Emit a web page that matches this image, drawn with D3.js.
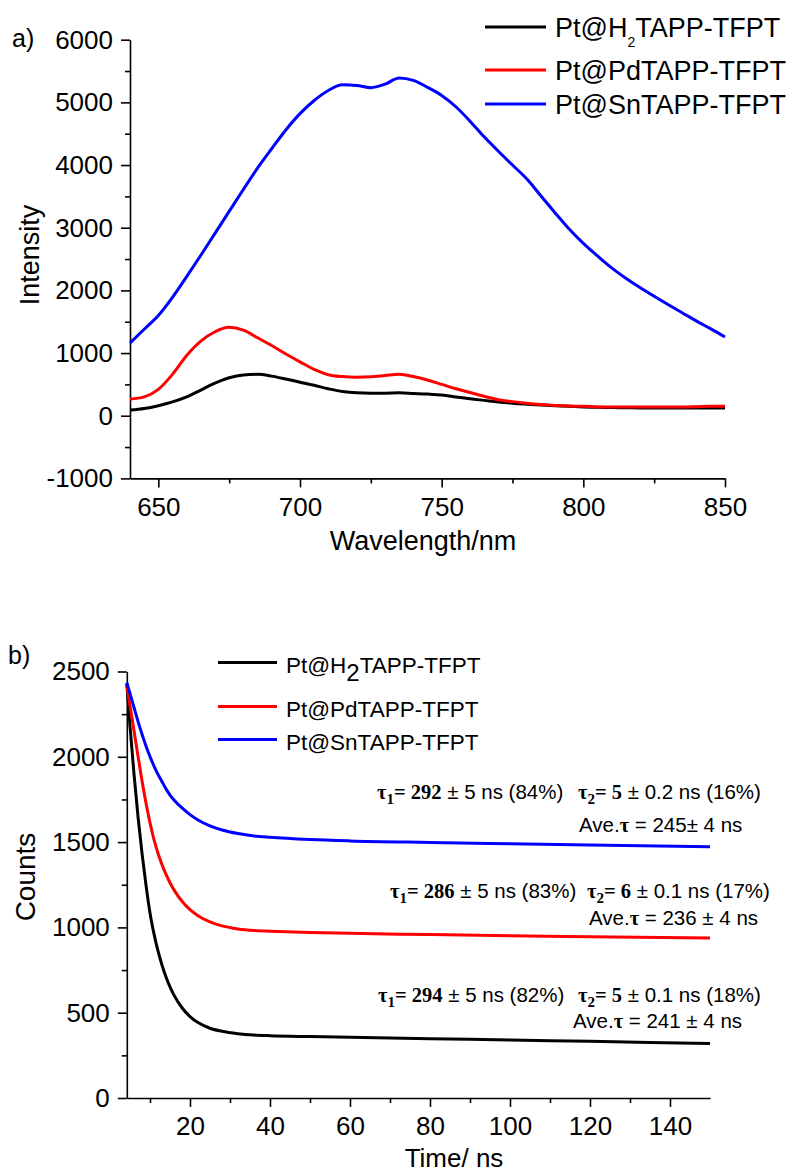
<!DOCTYPE html>
<html>
<head>
<meta charset="utf-8">
<script src="https://d3js.org/d3.v7.min.js"></script>
<style>
  body { margin: 0; background: #fff; }
  text { font-family: "Liberation Sans", Arial, sans-serif; fill: #000; }
  .ser { font-family: "Liberation Serif", "Times New Roman", serif; font-weight: bold; }
</style>
</head>
<body>
<div id="chart"></div>
<script>
// ---- data ----
var seriesNames = ["Pt@H2TAPP-TFPT", "Pt@PdTAPP-TFPT", "Pt@SnTAPP-TFPT"];
var seriesColors = ["#000000", "#ff0000", "#0000ff"];

// panel a: emission spectra
var wavelength = [640,645,650,655,660,665,670,675,680,685,690,695,700,705,710,715,720,725,730,735,
                  740,745,750,755,760,765,770,775,780,785,790,795,800,805,810,815,820,825,830,835,840,845,850];
var intH2 = [90,115,160,220,300,410,520,605,650,660,632,585,535,485,430,385,365,360,360,365,
             355,345,330,300,270,245,220,200,185,172,160,150,140,135,130,128,125,125,125,125,125,125,125];
var intPd = [265,300,420,660,960,1190,1340,1410,1365,1245,1120,985,860,740,655,625,615,620,640,660,
             625,570,500,430,370,310,255,225,200,180,165,155,150,140,140,140,140,140,140,140,145,150,150];
var intSn = [1160,1380,1600,1890,2220,2560,2910,3260,3610,3950,4260,4560,4820,5030,5190,5280,5270,5235,5290,5390,
             5350,5240,5110,4930,4700,4450,4220,4000,3780,3510,3240,2980,2750,2550,2360,2195,2045,1905,1770,1640,1510,1385,1255];

// panel b: decay curves
var time = [4.2,5,6,7,8,9,10,11,12,13,14,15,16,18,20,22,25,28,32,36,40,50,60,80,100,120,150];
var cntH2 = [2430,2180,1900,1650,1435,1248,1085,962,862,779,709,651,603,529,477,442,409,391,377,369,365,360,356,348,340,332,320];
var cntPd = [2421,2301,2153,2004,1860,1729,1613,1515,1435,1368,1311,1262,1220,1153,1104,1069,1032,1009,991,982,978,970,965,958,951,945,938];
var cntSn = [2434,2371,2289,2208,2133,2063,2001,1946,1897,1854,1812,1776,1747,1700,1661,1630,1595,1571,1550,1536,1528,1515,1507,1498,1490,1483,1473];

// fit results
var tau1 = ["294", "286", "292"];
var tau1Err = ["5", "5", "5"];
var frac1 = ["82%", "83%", "84%"];
var tau2 = ["5", "6", "5"];
var tau2Err = ["0.1", "0.1", "0.2"];
var frac2 = ["18%", "17%", "16%"];
var aveTau = ["241 \u00b1 4", "236 \u00b1 4", "245\u00b1 4"];

// ticks
var xTicksA = [650,700,750,800,850], xMinorA = [675,725,775,825];
var yTicksA = [-1000,0,1000,2000,3000,4000,5000,6000], yMinorA = [-500,500,1500,2500,3500,4500,5500];
var xTicksB = [20,40,60,80,100,120,140], xMinorB = [10,30,50,70,90,110,130];
var yTicksB = [0,500,1000,1500,2000,2500], yMinorB = [250,750,1250,1750,2250];

var svg = d3.select("#chart").append("svg")
    .attr("width", 796).attr("height", 1174);

var plain = function (d) { return String(d); };

function styleAxis(g, size) {
    g.attr("font-family", "Liberation Sans, Arial, sans-serif").attr("font-size", size);
    g.selectAll("path, line").attr("stroke", "#000").attr("stroke-width", 1.6);
}

function drawAxes(x, y, xT, xM, yT, yM) {
    var x0 = x.range()[0], y0 = y.range()[0];
    svg.append("g").attr("transform", "translate(0," + y0 + ")")
        .call(d3.axisBottom(x).tickValues(xM).tickSize(5).tickFormat(""))
        .call(styleAxis, 26).select(".domain").remove();
    svg.append("g").attr("transform", "translate(" + x0 + ",0)")
        .call(d3.axisLeft(y).tickValues(yM).tickSize(5).tickFormat(""))
        .call(styleAxis, 26).select(".domain").remove();
    svg.append("g").attr("transform", "translate(0," + y0 + ")")
        .call(d3.axisBottom(x).tickValues(xT).tickSize(9).tickPadding(10).tickSizeOuter(0).tickFormat(plain))
        .call(styleAxis, 26);
    svg.append("g").attr("transform", "translate(" + x0 + ",0)")
        .call(d3.axisLeft(y).tickValues(yT).tickSize(9).tickPadding(8).tickSizeOuter(0).tickFormat(plain))
        .call(styleAxis, 26);
}

function legendText(sel, name, subSize, subDy) {
    var i = name.indexOf("H2");
    if (i < 0) { sel.text(name); return; }
    sel.append("tspan").text(name.slice(0, i + 1));
    sel.append("tspan").attr("font-size", subSize).attr("dy", subDy).text("2");
    sel.append("tspan").attr("dy", -subDy).text(name.slice(i + 2));
}

// ---------- panel a ----------
var xA = d3.scaleLinear().domain([640, 850]).range([130, 725]);
var yA = d3.scaleLinear().domain([-1000, 6000]).range([478.4, 39.7]);
drawAxes(xA, yA, xTicksA, xMinorA, yTicksA, yMinorA);

var lineA = d3.line().curve(d3.curveMonotoneX)
    .x(function (d, i) { return xA(wavelength[i]); })
    .y(function (d) { return yA(d); });
[intH2, intPd, intSn].forEach(function (s, k) {
    svg.append("path").datum(s).attr("d", lineA)
        .attr("fill", "none").attr("stroke", seriesColors[k]).attr("stroke-width", 3);
});

svg.append("text").attr("x", 12).attr("y", 47).attr("font-size", 25).text("a)");
svg.append("text").attr("x", 423).attr("y", 550).attr("text-anchor", "middle")
    .attr("font-size", 27).text("Wavelength/nm");
svg.append("text").attr("transform", "translate(39,255) rotate(-90)")
    .attr("text-anchor", "middle").attr("font-size", 27).text("Intensity");

var legA = [27, 70, 104];
seriesNames.forEach(function (n, k) {
    svg.append("line").attr("x1", 485).attr("x2", 546).attr("y1", legA[k]).attr("y2", legA[k])
        .attr("stroke", seriesColors[k]).attr("stroke-width", 3);
    svg.append("text").attr("x", 555).attr("y", legA[k] + 10).attr("font-size", 27)
        .call(legendText, n, 14, 10);
});

// ---------- panel b ----------
var xB = d3.scaleLinear().domain([4.2, 150]).range([126.8, 710]);
var yB = d3.scaleLinear().domain([0, 2500]).range([1098, 671.5]);
drawAxes(xB, yB, xTicksB, xMinorB, yTicksB, yMinorB);

var lineB = d3.line().curve(d3.curveMonotoneX)
    .x(function (d, i) { return xB(time[i]); })
    .y(function (d) { return yB(d); });
[cntH2, cntPd, cntSn].forEach(function (s, k) {
    svg.append("path").datum(s).attr("d", lineB)
        .attr("fill", "none").attr("stroke", seriesColors[k]).attr("stroke-width", 3);
});

svg.append("text").attr("x", 8).attr("y", 664).attr("font-size", 25).text("b)");
svg.append("text").attr("x", 454).attr("y", 1167).attr("text-anchor", "middle")
    .attr("font-size", 26).text("Time/ ns");
svg.append("text").attr("transform", "translate(35,877) rotate(-90)")
    .attr("text-anchor", "middle").attr("font-size", 28).text("Counts");

var legB = [662.5, 706.5, 739.5];
seriesNames.forEach(function (n, k) {
    svg.append("line").attr("x1", 218).attr("x2", 277).attr("y1", legB[k]).attr("y2", legB[k])
        .attr("stroke", seriesColors[k]).attr("stroke-width", 3);
    svg.append("text").attr("x", 286).attr("y", legB[k] + 10.5).attr("font-size", 22.5)
        .call(legendText, n, 24, 8);
});

// fit annotations, one block per series
var annPos = [
    {x1: 378, y1: 1001.5, x2: 578, xa: 573, ya: 1028},
    {x1: 390, y1: 898,    x2: 587, xa: 589, ya: 925},
    {x1: 377, y1: 799,    x2: 578, xa: 579, ya: 831.5}
];

function tauPart(t, sub, val, rest) {
    t.append("tspan").attr("class", "ser").text("\u03c4");
    t.append("tspan").attr("class", "ser").attr("font-size", 15).attr("dy", 5).text(sub);
    t.append("tspan").attr("class", "ser").attr("dy", -5).text("= " + val);
    t.append("tspan").text(rest);
}

annPos.forEach(function (p, k) {
    var t1 = svg.append("text").attr("x", p.x1).attr("y", p.y1).attr("font-size", 20.5);
    tauPart(t1, "1", tau1[k], " \u00b1 " + tau1Err[k] + " ns (" + frac1[k] + ")");
    var t2 = svg.append("text").attr("x", p.x2).attr("y", p.y1).attr("font-size", 20.5);
    tauPart(t2, "2", tau2[k], " \u00b1 " + tau2Err[k] + " ns (" + frac2[k] + ")");
    var t3 = svg.append("text").attr("x", p.xa).attr("y", p.ya).attr("font-size", 20.5);
    t3.append("tspan").text("Ave.");
    t3.append("tspan").attr("class", "ser").text("\u03c4");
    t3.append("tspan").text(" = " + aveTau[k] + " ns");
});
</script>
</body>
</html>
